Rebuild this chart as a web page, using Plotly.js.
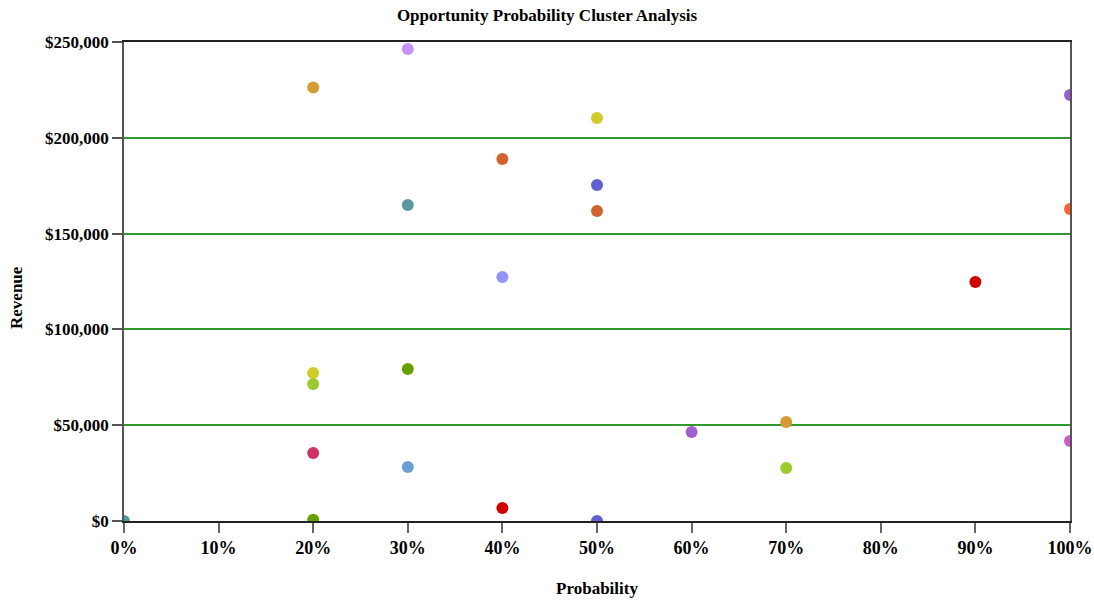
<!DOCTYPE html>
<html>
<head>
<meta charset="utf-8">
<script src="https://cdn.plot.ly/plotly-3.0.1.min.js"></script>
<style>html,body{margin:0;padding:0;background:#fff;}#chart{width:1094px;height:601px;}</style>
</head>
<body>
<div id="chart"></div>
<script>
const probability = [0, 0.2, 0.3, 1.0, 0.5, 0.4, 0.5, 0.3, 0.5, 1.0, 0.9, 0.4, 0.3, 0.2, 0.2, 0.7, 0.6, 1.0, 0.2, 0.3, 0.7, 0.4, 0.2, 0.5];
const revenue = [0, 226300, 246300, 222300, 210300, 188900, 175400, 164900, 161800, 162800, 124700, 127300, 79300, 77200, 71500, 51700, 46500, 41800, 35500, 28200, 27700, 6800, 600, 0];
const pointColors = ['#4f9a9c', '#d49b32', '#c693fb', '#9a5fcc', '#cdcc2a', '#d2632f', '#5f5fd2', '#5a9a9e', '#d2632f', '#fa6433', '#d00000', '#9494fb', '#66a000', '#cfcc2a', '#9acc30', '#d49b32', '#a060d0', '#cc5acc', '#cc3366', '#6b9fd4', '#9acc30', '#d00000', '#66a000', '#5f5fd2'];

const font = {family: 'Liberation Serif, Times New Roman, serif', size: 17, color: '#000', weight: 'bold'};
const xTickFont = Object.assign({}, font, {size: 18});

Plotly.newPlot('chart', [{
  type: 'scatter',
  mode: 'markers',
  x: probability,
  y: revenue,
  marker: {size: 12, color: pointColors, line: {width: 0}},
  cliponaxis: true,
  hoverinfo: 'x+y'
}], {
  width: 1094, height: 601,
  margin: {l: 124, r: 24, t: 42, b: 80},
  paper_bgcolor: '#fff', plot_bgcolor: '#fff',
  showlegend: false,
  font: font,
  title: {text: 'Opportunity Probability Cluster Analysis', font: font, x: 0.5, xanchor: 'center', y: 0.975, yanchor: 'middle'},
  xaxis: {
    range: [0, 1], dtick: 0.1, tick0: 0, tickformat: '.0%',
    showgrid: false, zeroline: false,
    showline: true, linecolor: '#222', linewidth: 1.5, mirror: true,
    ticks: 'outside', ticklen: 10, tickcolor: '#666', tickwidth: 1.5,
    tickfont: xTickFont,
    title: {text: 'Probability', font: font, standoff: 25},
    automargin: false
  },
  yaxis: {
    range: [0, 250000], dtick: 50000, tick0: 0, tickprefix: '$', tickformat: ',d',
    showgrid: true, gridcolor: '#2e9a2e', gridwidth: 1.5, zeroline: false,
    showline: true, linecolor: '#555', linewidth: 1.5, mirror: true,
    ticks: 'outside', ticklen: 10, tickcolor: '#555', tickwidth: 1.5,
    tickfont: font,
    automargin: false
  },
  annotations: [{
    text: 'Revenue', font: font, textangle: -90,
    xref: 'paper', yref: 'paper', x: -0.1131, y: 0.4656,
    xanchor: 'center', yanchor: 'middle', showarrow: false
  }]
}, {displayModeBar: false});
// make sure the green grid colour is applied to the drawn grid paths
document.querySelectorAll('#chart .ygrid').forEach(function (p) { p.style.stroke = '#2e9a2e'; p.style.strokeOpacity = 1; });
</script>
</body>
</html>
